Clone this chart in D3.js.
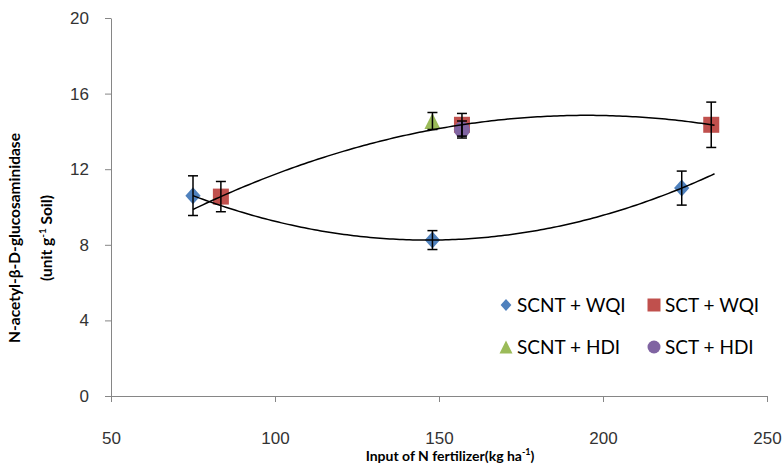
<!DOCTYPE html>
<html>
<head>
<meta charset="utf-8">
<script src="https://cdn.jsdelivr.net/npm/d3@7"></script>
<style>
  body { margin: 0; background: #fff; }
  svg { font-family: Lato, "Open Sans", sans-serif; }
  .axis path, .axis line { stroke: #868686; }
  .axis text { fill: #333; font-size: 17px; }
  .label { font-weight: bold; font-size: 14px; fill: #000; }
  .legend text { font-size: 19px; fill: #000; }
</style>
</head>
<body>
<svg id="chart"></svg>
<script>
var width = 783;
var height = 468;
var margin = { top: 18, right: 16, left: 111, bottom: 72 };

// N input (kg/ha) and enzyme activity, with error bar half-widths
var scntWqiX = [75, 148, 224];
var scntWqiY = [10.6, 8.25, 11.0];
var scntWqiErr = [1.05, 0.5, 0.9];

var sctWqiX = [83.5, 157, 233];
var sctWqiY = [10.55, 14.35, 14.35];
var sctWqiErr = [0.8, 0.6, 1.2];

var scntHdiX = [148];
var scntHdiY = [14.55];
var scntHdiErr = [0.45];

var sctHdiX = [157];
var sctHdiY = [14.1];
var sctHdiErr = [0.45];

var xTicks = [50, 100, 150, 200, 250];
var yTicks = [0, 4, 8, 12, 16, 20];

var series = [
  { name: "SCNT + WQI", xs: scntWqiX, ys: scntWqiY, err: scntWqiErr, color: "#4F81BD", shape: "diamond" },
  { name: "SCT + WQI", xs: sctWqiX, ys: sctWqiY, err: sctWqiErr, color: "#C0504D", shape: "square" },
  { name: "SCNT + HDI", xs: scntHdiX, ys: scntHdiY, err: scntHdiErr, color: "#9BBB59", shape: "triangle" },
  { name: "SCT + HDI", xs: sctHdiX, ys: sctHdiY, err: sctHdiErr, color: "#8064A2", shape: "circle" }
];

var x = d3.scaleLinear().domain([50, 250]).range([margin.left, width - margin.right]);
var y = d3.scaleLinear().domain([0, 20]).range([height - margin.bottom, margin.top]);

var svg = d3.select("#chart").attr("width", width).attr("height", height);

function shapePath(shape, s) {
  var h = s / 2;
  if (shape == "diamond") return "M0," + (-h) + "L" + (h * 0.9) + ",0L0," + h + "L" + (-h * 0.9) + ",0Z";
  if (shape == "square") return "M" + (-h) + "," + (-h) + "h" + s + "v" + s + "h" + (-s) + "Z";
  if (shape == "triangle") return "M0," + (-h) + "L" + h + "," + h + "L" + (-h) + "," + h + "Z";
  return "M" + h + ",0A" + h + "," + h + " 0 1,1 " + (-h) + ",0A" + h + "," + h + " 0 1,1 " + h + ",0Z";
}

// quadratic through three points (Newton form)
function quad(xs, ys) {
  var d1 = (ys[1] - ys[0]) / (xs[1] - xs[0]);
  var d2 = (ys[2] - ys[1]) / (xs[2] - xs[1]);
  var a = (d2 - d1) / (xs[2] - xs[0]);
  return function(t) { return ys[0] + d1 * (t - xs[0]) + a * (t - xs[0]) * (t - xs[1]); };
}

// axes
svg.append("g")
  .attr("class", "axis")
  .attr("transform", "translate(0," + y(0) + ")")
  .call(d3.axisBottom(x).tickValues(xTicks).tickSize(6).tickPadding(30).tickSizeOuter(0));

svg.append("g")
  .attr("class", "axis")
  .attr("transform", "translate(" + x(50) + ",0)")
  .call(d3.axisLeft(y).tickValues(yTicks).tickSize(6).tickPadding(16).tickSizeOuter(0));

svg.selectAll(".axis .domain").attr("stroke", "#868686");

// markers
series.forEach(function(s) {
  var g = svg.append("g");
  g.selectAll("path")
    .data(s.xs)
    .enter()
      .append("path")
        .attr("d", shapePath(s.shape, s.shape == "diamond" ? 17 : 16))
        .attr("transform", function(d, i) { return "translate(" + x(d) + "," + y(s.ys[i]) + ")"; })
        .attr("fill", s.color);
});

// trend lines over the two WQI series
var span = d3.range(75, 234.5, 1);
[series[0], series[1]].forEach(function(s) {
  var f = quad(s.xs, s.ys);
  svg.append("path")
    .datum(span)
    .attr("fill", "none")
    .attr("stroke", "#000")
    .attr("stroke-width", 1.5)
    .attr("d", d3.line().x(function(d) { return x(d); }).y(function(d) { return y(f(d)); }));
});

// error bars
series.forEach(function(s) {
  var g = svg.append("g").attr("stroke", "#000").attr("stroke-width", 1.5);
  s.xs.forEach(function(d, i) {
    var cx = x(d), lo = y(s.ys[i] - s.err[i]), hi = y(s.ys[i] + s.err[i]);
    g.append("line").attr("x1", cx).attr("x2", cx).attr("y1", lo).attr("y2", hi);
    g.append("line").attr("x1", cx - 5).attr("x2", cx + 5).attr("y1", lo).attr("y2", lo);
    g.append("line").attr("x1", cx - 5).attr("x2", cx + 5).attr("y1", hi).attr("y2", hi);
  });
});

// legend
var legendPos = [[506, 305], [654, 305], [506, 347], [654, 347]];
var legend = svg.append("g").attr("class", "legend");
series.forEach(function(s, i) {
  var p = legendPos[i];
  legend.append("path")
    .attr("d", shapePath(s.shape, s.shape == "diamond" ? 12 : 13))
    .attr("transform", "translate(" + p[0] + "," + p[1] + ")")
    .attr("fill", s.color);
  legend.append("text")
    .attr("x", p[0] + 11)
    .attr("y", p[1] + 7)
    .text(s.name);
});

// axis titles
var xt = svg.append("text")
  .attr("class", "label")
  .attr("x", 450)
  .attr("y", 461)
  .style("text-anchor", "middle");
xt.append("tspan").text("Input of N fertilizer(kg ha");
xt.append("tspan").attr("font-size", "9px").attr("dy", -6).text("-1");
xt.append("tspan").attr("dy", 6).text(")");

var yt = svg.append("g").attr("transform", "translate(20,238) rotate(-90)");
yt.append("text")
  .attr("class", "label")
  .style("font-size", "15.5px")
  .style("text-anchor", "middle")
  .text("N-acetyl-β-D-glucosaminidase");
var yt2 = yt.append("text")
  .attr("class", "label")
  .attr("y", 32)
  .style("font-size", "15.5px")
  .style("text-anchor", "middle");
yt2.append("tspan").text("(unit g");
yt2.append("tspan").attr("font-size", "10px").attr("dy", -6).text("-1");
yt2.append("tspan").attr("dy", 6).text(" Soil)");
</script>
</body>
</html>
